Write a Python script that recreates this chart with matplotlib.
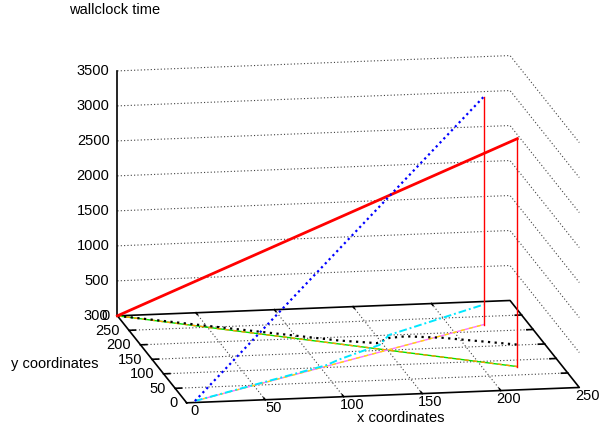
import numpy as np
import matplotlib
matplotlib.use('Agg')
import matplotlib.pyplot as plt

plt.rcParams['font.family'] = ['Liberation Sans', 'DejaVu Sans']

x_ticks = [0, 50, 100, 150, 200, 250]
y_ticks = [0, 50, 100, 150, 200, 250, 300]
z_ticks = [0, 500, 1000, 1500, 2000, 2500, 3000, 3500]

# run 1 starts in the back corner (0, 300)
r1_x = [0, 222]
r1_y = [300, 78]
r1_t = [0, 3257]
# run 2 starts near the origin
r2_x = [6, 222]
r2_y = [5, 223]
r2_t = [0, 3257]
# low curves (black dots for run 1, cyan for run 2)
c1_x = [0, 73, 123, 144, 151, 160, 180, 222]
c1_y = [300, 227, 177, 156, 149, 140, 120, 78]
c1_t = [0, 29, 49, 80, 178, 230, 275, 314]
c2_x = [6, 104, 114, 144, 151, 187, 222]
c2_y = [5, 104, 114, 144, 151, 187, 223]
c2_t = [0, 14, 48, 105, 211, 252, 286]

fig = plt.figure(figsize=(6.01, 4.28), dpi=100)
ax = fig.add_axes([0.07, -0.049, 1, 1], projection='3d', computed_zorder=False)
ax.set_proj_type('ortho')
ax.view_init(elev=12.8, azim=-100)
ax.set_box_aspect((1, 1, 0.63), zoom=1.4)
ax.set_axis_off()

xmax, ymax, zmax = x_ticks[-1], y_ticks[-1], z_ticks[-1]
grid = dict(color='0.25', lw=0.8, ls=(0, (1, 2)), clip_on=False)

# grid on the base
for xt in x_ticks[1:-1]:
    ax.plot([xt, xt], [0, ymax], [0, 0], **grid)
for yt in y_ticks[1:-1]:
    ax.plot([0, xmax], [yt, yt], [0, 0], **grid)
# grid on the back walls
for zt in z_ticks[1:]:
    ax.plot([0, xmax, xmax], [ymax, ymax, 0], [zt, zt, zt], **grid)

# base frame and z axis
ax.plot([0, xmax, xmax, 0, 0], [0, 0, ymax, ymax, 0], [0] * 5, color='k', lw=1.2, clip_on=False)
ax.plot([0, 0], [ymax, ymax], [0, zmax], color='k', lw=1.2, clip_on=False)
for yt in y_ticks[1:-1]:
    ax.plot([xmax, xmax - 4], [yt, yt], [0, 0], color='k', lw=1.2, clip_on=False)
    ax.plot([0, 4], [yt, yt], [0, 0], color='k', lw=1.2, clip_on=False)
for xt in x_ticks[1:-1]:
    ax.plot([xt, xt], [0, 6], [0, 0], color='k', lw=1.2, clip_on=False)
    ax.plot([xt, xt], [ymax, ymax - 6], [0, 0], color='k', lw=1.2, clip_on=False)

# tick labels
for xt in x_ticks:
    ax.text(xt + 1, -28, 0, str(xt), ha='center', va='center', fontsize=10.5, clip_on=False)
for yt in y_ticks:
    ax.text(-6, yt, 0, str(yt), ha='right', va='center', fontsize=10.5, clip_on=False)
for zt in z_ticks:
    ax.text(-5, ymax, zt, str(zt), ha='right', va='center', fontsize=10.5, clip_on=False)

# projections on the base
ax.plot(r1_x, r1_y, [0, 0], color='#00e000', lw=1, clip_on=False)
ax.plot(r1_x, r1_y, [0, 0], color='#ff9900', lw=1, ls=(0, (3, 3)), clip_on=False)
ax.plot(r2_x, r2_y, [0, 0], color='#ff70ff', lw=1, clip_on=False)
ax.plot(r2_x, r2_y, [0, 0], color='#ffe000', lw=1, ls=(0, (3, 3)), clip_on=False)

# low curves
ax.plot(c1_x, c1_y, c1_t, color='k', lw=1.6, ls=(0, (1, 2)), clip_on=False)
ax.plot(c2_x, c2_y, c2_t, color='#00e8ff', lw=1.4, ls=(0, (4, 1.5, 1, 1.5)), clip_on=False)

# wallclock time
ax.plot(r1_x, r1_y, r1_t, color='red', lw=2, clip_on=False)
ax.plot(r2_x, r2_y, r2_t, color='blue', lw=1.6, ls=(0, (1, 1.5)), clip_on=False)
ax.plot([r1_x[-1]] * 2, [r1_y[-1]] * 2, [0, r1_t[-1]], color='red', lw=1, clip_on=False)
ax.plot([r2_x[-1]] * 2, [r2_y[-1]] * 2, [0, r2_t[-1]], color='red', lw=1, clip_on=False)

ax.set_xlim(0, xmax)
ax.set_ylim(0, ymax)
ax.set_zlim(0, zmax)

fig.text(0.19, 0.977, 'wallclock time', ha='center', va='center', fontsize=10.5)
fig.text(0.0915, 0.15, 'y coordinates', ha='center', va='center', fontsize=10.5)
fig.text(0.666, 0.023, 'x coordinates', ha='center', va='center', fontsize=10.5)

fig.savefig('out.png', dpi=100)
